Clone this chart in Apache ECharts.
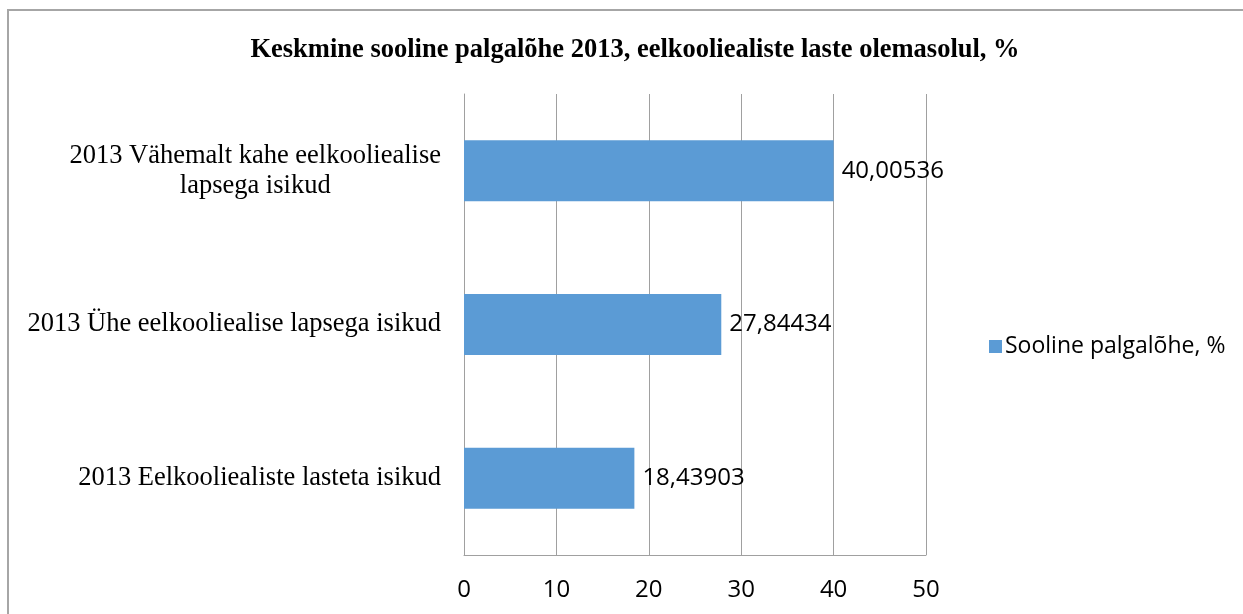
<!DOCTYPE html>
<html>
<head>
<meta charset="utf-8">
<script src="https://cdn.jsdelivr.net/npm/echarts@6/dist/echarts.min.js"></script>
<style>
html,body{margin:0;padding:0;background:#fff;}
#c{width:1243px;height:614px;}
</style>
</head>
<body>
<div id="c"></div>
<script>
var titleText = 'Keskmine sooline palgalõhe 2013, eelkooliealiste laste olemasolul, %';
var categories = [
  '2013 Eelkooliealiste lasteta isikud',
  '2013 Ühe eelkooliealise lapsega isikud',
  '2013 Vähemalt kahe eelkooliealise\nlapsega isikud'
];
var seriesName = 'Sooline palgalõhe, %';
var values = [18.43903, 27.84434, 40.00536];
var xTicks = [0, 10, 20, 30, 40, 50];

var chart = echarts.init(document.getElementById('c'));
chart.setOption({
  animation: false,
  backgroundColor: '#fff',
  title: {
    text: titleText,
    left: 630, top: 32, textAlign: 'center',
    textStyle: {fontFamily: 'Liberation Serif', fontWeight: 'bold', fontSize: 26.5, color: '#000'}
  },
  graphic: [{
    type: 'rect', silent: true,
    shape: {x: 8, y: 10, width: 1300, height: 700},
    style: {fill: 'none', stroke: '#a6a6a6', lineWidth: 2}
  }],
  legend: {
    data: [seriesName],
    left: 984, top: 330,
    icon: 'rect', itemWidth: 13, itemHeight: 13, itemGap: 5,
    textStyle: {fontFamily: 'Open Sans', fontSize: 23, color: '#000', padding: [0,0,0,-2]}
  },
  grid: {left: 464, top: 94, width: 462, height: 461, containLabel: false},
  xAxis: {
    type: 'value', min: xTicks[0], max: xTicks[xTicks.length-1], interval: 10,
    axisLine: {show: true, lineStyle: {color: '#a0a0a0', width: 1}},
    axisTick: {show: false},
    splitLine: {show: true, lineStyle: {color: '#a0a0a0', width: 1}},
    axisLabel: {margin: 23, fontFamily: 'Open Sans', fontSize: 24, color: '#000'}
  },
  yAxis: {
    type: 'category', data: categories,
    axisLine: {show: true, lineStyle: {color: '#a0a0a0', width: 1}},
    axisTick: {show: false},
    axisLabel: {
      margin: 23, align: 'right',
      fontFamily: 'Liberation Serif', fontSize: 26.5, color: '#000', lineHeight: 30,
      formatter: function (v) {
        return v.split('\n').map(function (l) { return '{c|' + l + '}'; }).join('\n');
      },
      rich: {c: {align: 'center', fontFamily: 'Liberation Serif', fontSize: 26.5, color: '#000', lineHeight: 30}}
    }
  },
  series: [{
    name: seriesName, type: 'bar', data: values,
    barWidth: 61,
    itemStyle: {color: '#5b9bd5'},
    label: {
      show: true, position: 'right', distance: 8,
      fontFamily: 'Open Sans', fontSize: 24, color: '#000',
      formatter: function (p) { return String(p.value).replace('.', ','); }
    }
  }]
});
</script>
</body>
</html>
